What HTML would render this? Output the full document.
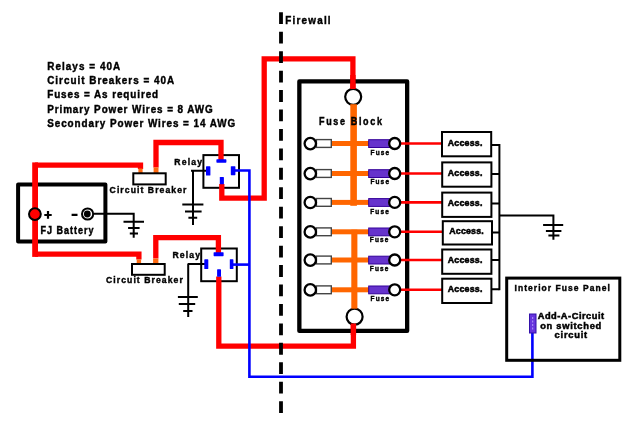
<!DOCTYPE html>
<html><head><meta charset="utf-8"><style>
html,body{margin:0;padding:0;background:#fff;}
svg{display:block;will-change:transform;}
text{font-family:"Liberation Sans",sans-serif;font-weight:bold;fill:#000;stroke:#000;stroke-width:0.42;}
</style></head><body>
<svg width="640" height="427" viewBox="0 0 640 427">
<rect x="0" y="0" width="640" height="427" fill="#fff"/>

<!-- notes -->
<g font-size="11">
<text transform="translate(47.2,69.8) scale(0.9,1)" x="0" y="0" textLength="81.1" lengthAdjust="spacing">Relays = 40A</text>
<text transform="translate(47.2,84) scale(0.9,1)" x="0" y="0" textLength="141.1" lengthAdjust="spacing">Circuit Breakers = 40A</text>
<text transform="translate(47.2,98.2) scale(0.9,1)" x="0" y="0" textLength="123.3" lengthAdjust="spacing">Fuses = As required</text>
<text transform="translate(47.2,113.1) scale(0.9,1)" x="0" y="0" textLength="183.9" lengthAdjust="spacing">Primary Power Wires = 8 AWG</text>
<text transform="translate(47.2,127.1) scale(0.9,1)" x="0" y="0" textLength="208.9" lengthAdjust="spacing">Secondary Power Wires = 14 AWG</text>
</g>

<!-- battery -->
<rect x="18.1" y="184.4" width="87.3" height="57.2" fill="none" stroke="#000" stroke-width="4" stroke-linejoin="round"/>

<!-- ground wires black -->
<g stroke="#000" stroke-width="2" fill="none">
  <!-- battery ground -->
  <path d="M94,213.8 H133.7 V237.7"/>
  <path d="M123.5,221.8 H144 M128.1,228 H139.6 M129.8,233.5 H138"/>
  <!-- relay1 ground -->
  <path d="M191,170.7 H207 M193,170.7 V224.9"/>
  <path d="M182.3,204.6 H203.4 M185,211.4 H201.6 M188.4,217.7 H197.2"/>
  <!-- relay2 ground -->
  <path d="M187.6,263.9 H205 M188.2,263.9 V316.9"/>
  <path d="M177.9,297 H197.8 M178.8,304.1 H195.2 M183.2,311.1 H192.5"/>
  <!-- access bus -->
  <path d="M492,144.9 H499.4 M492,174 H499.4 M492,203.4 H499.4 M492,232.5 H499.4 M492,260 H499.4 M492,289.2 H499.4"/>
  <path d="M499.4,144 V290.2"/>
  <path d="M499.4,215.4 H553.4 V239.7"/>
  <path d="M543.1,225.1 H563.2 M545.9,231 H561.4 M548.4,235.5 H559.4"/>
</g>

<!-- relay boxes -->
<rect x="203.4" y="155.1" width="35.6" height="32.7" fill="none" stroke="#000" stroke-width="2"/>
<rect x="201.2" y="248.5" width="35.6" height="32.7" fill="none" stroke="#000" stroke-width="2"/>
<!-- red wires -->
<g stroke="#ff0000" stroke-width="5.3" fill="none" stroke-linejoin="miter" stroke-linecap="butt">
  <path d="M35.1,165.1 H140.5 V169"/>
  <path d="M35.1,254.2 H138.9 V259.5"/>
  <path d="M35.1,162.4 V256.9" stroke-width="5.8"/>
  <path d="M156,167.5 V142.5 H221 V160"/>
  <path d="M221.8,184 V198.2 H264.2 V58.8 H352.9 V89"/>
  <path d="M155.8,258.6 V237.7 H218.4 V253"/>
  <path d="M218.8,276.5 V346.2 H353.4 V323.4"/>
</g>
<!-- orange CB terminals -->
<g fill="#ff6a10">
  <rect x="138.4" y="168.5" width="4.2" height="4.5"/>
  <rect x="153.6" y="167.4" width="4.9" height="5.6"/>
  <rect x="136.7" y="259.4" width="4.4" height="4.9"/>
  <rect x="153.1" y="258.6" width="5.3" height="5.7"/>
</g>
<!-- circuit breakers -->
<rect x="133.3" y="173.3" width="32.4" height="11.1" fill="#fff" stroke="#000" stroke-width="2"/>
<rect x="132" y="264" width="32.7" height="10.8" fill="#fff" stroke="#000" stroke-width="2"/>

<!-- battery terminals -->
<circle cx="34.9" cy="214.1" r="5.9" fill="#ff0000" stroke="#000" stroke-width="2"/>
<circle cx="87.6" cy="214" r="5.6" fill="#fff" stroke="#000" stroke-width="2"/>
<circle cx="87.3" cy="214" r="3.4" fill="#000"/>
<path d="M44.3,215 H51.7 M48,211.1 V218.8 M71.6,214.8 H77.5" stroke="#000" stroke-width="2.2" fill="none"/>
<text transform="translate(40.6,234.1) scale(0.9,1)" x="0" y="0" font-size="10" textLength="58.89" lengthAdjust="spacing">FJ Battery</text>
<text transform="translate(109.6,192.9) scale(0.9,1)" x="0" y="0" font-size="9.6" textLength="85.33" lengthAdjust="spacing">Circuit Breaker</text>
<text transform="translate(106.0,283.4) scale(0.9,1)" x="0" y="0" font-size="9.6" textLength="85.33" lengthAdjust="spacing">Circuit Breaker</text>
<text transform="translate(174.3,164.8) scale(0.9,1)" x="0" y="0" font-size="9.6" textLength="30.89" lengthAdjust="spacing">Relay</text>
<text transform="translate(172.5,257.5) scale(0.9,1)" x="0" y="0" font-size="9.6" textLength="30.56" lengthAdjust="spacing">Relay</text>

<!-- relays -->
<g fill="#0000ff">
  <rect x="216.4" y="159.3" width="10" height="3.4" rx="0.6"/>
  <rect x="206" y="166.3" width="4.4" height="9.2" rx="0.6"/>
  <rect x="230.8" y="166.2" width="4.6" height="9" rx="0.6"/>
  <rect x="219.8" y="177" width="4.1" height="7.3" rx="0.6"/>
  <rect x="213.6" y="252.2" width="10" height="4" rx="0.6"/>
  <rect x="204.3" y="259.3" width="4" height="9.7" rx="0.6"/>
  <rect x="229.8" y="259.2" width="3.6" height="9.8" rx="0.6"/>
  <rect x="217.1" y="269.3" width="3.9" height="7.5" rx="0.6"/>
</g>

<!-- blue wire -->
<g stroke="#0000ff" stroke-width="2.6" fill="none">
  <path d="M235,170.5 H249.4 V376.8 H532.4 V333"/>
  <path d="M233,264.6 H249.4"/>
</g>

<!-- firewall -->
<line x1="281" y1="12.3" x2="281" y2="414" stroke="#000" stroke-width="3.8" stroke-dasharray="11.8 7.645"/>
<text transform="translate(285.3,23.8) scale(0.9,1)" x="0" y="0" font-size="11" textLength="50.33" lengthAdjust="spacing">Firewall</text>

<!-- fuse block -->
<rect x="299.35" y="81.45" width="107.8" height="249.5" fill="none" stroke="#000" stroke-width="4.3" stroke-linejoin="round"/>
<circle cx="353.2" cy="96.8" r="8" fill="#fff" stroke="#000" stroke-width="2.2"/>
<circle cx="354.6" cy="316.7" r="8" fill="#fff" stroke="#000" stroke-width="2.2"/>
<g fill="#ff6600">
  <rect x="350.3" y="104.2" width="6.6" height="101.6"/>
  <rect x="351.3" y="229.7" width="6.1" height="79"/>
</g>
<path d="M352.9,75 V89 M353.4,335 V323.4" stroke="#ff0000" stroke-width="5.4" fill="none"/>
<g id="rows">
<rect x="331" y="141.0" width="38" height="5" fill="#ff6600"/>
<rect x="316.4" y="139.6" width="14.9" height="7.8" fill="#fff" stroke="#444" stroke-width="1.4"/>
<circle cx="310.3" cy="143.6" r="5.7" fill="#fff" stroke="#000" stroke-width="2.3"/>
<rect x="368.7" y="139.7" width="21" height="7.8" fill="#6633cc" stroke="#330099" stroke-width="1"/>
<line x1="400" y1="143.5" x2="442" y2="143.5" stroke="#ff0000" stroke-width="2.6"/>
<circle cx="394.7" cy="143.5" r="5.5" fill="#fff" stroke="#000" stroke-width="2.3"/>
<text transform="translate(370.6,154.7) scale(0.9,1)" x="0" y="0" font-size="7.2" textLength="20.67" lengthAdjust="spacing">Fuse</text>
<rect x="331" y="171.0" width="38" height="5" fill="#ff6600"/>
<rect x="316.4" y="169.6" width="14.9" height="7.8" fill="#fff" stroke="#444" stroke-width="1.4"/>
<circle cx="310.3" cy="173.6" r="5.7" fill="#fff" stroke="#000" stroke-width="2.3"/>
<rect x="368.7" y="169.7" width="21" height="7.8" fill="#6633cc" stroke="#330099" stroke-width="1"/>
<line x1="400" y1="173.5" x2="442" y2="173.5" stroke="#ff0000" stroke-width="2.6"/>
<circle cx="394.7" cy="173.5" r="5.5" fill="#fff" stroke="#000" stroke-width="2.3"/>
<text transform="translate(370.4,184.4) scale(0.9,1)" x="0" y="0" font-size="7.2" textLength="20.67" lengthAdjust="spacing">Fuse</text>
<rect x="331" y="199.9" width="38" height="5" fill="#ff6600"/>
<rect x="316.4" y="198.5" width="14.9" height="7.8" fill="#fff" stroke="#444" stroke-width="1.4"/>
<circle cx="310.3" cy="202.5" r="5.7" fill="#fff" stroke="#000" stroke-width="2.3"/>
<rect x="368.7" y="198.6" width="21" height="7.8" fill="#6633cc" stroke="#330099" stroke-width="1"/>
<line x1="400" y1="202.4" x2="442" y2="202.4" stroke="#ff0000" stroke-width="2.6"/>
<circle cx="394.7" cy="202.4" r="5.5" fill="#fff" stroke="#000" stroke-width="2.3"/>
<text transform="translate(370.2,213.5) scale(0.9,1)" x="0" y="0" font-size="7.2" textLength="20.67" lengthAdjust="spacing">Fuse</text>
<rect x="331" y="229.3" width="38" height="5" fill="#ff6600"/>
<rect x="316.4" y="227.9" width="14.9" height="7.8" fill="#fff" stroke="#444" stroke-width="1.4"/>
<circle cx="310.3" cy="231.9" r="5.7" fill="#fff" stroke="#000" stroke-width="2.3"/>
<rect x="368.7" y="228.0" width="21" height="7.8" fill="#6633cc" stroke="#330099" stroke-width="1"/>
<line x1="400" y1="231.8" x2="442" y2="231.8" stroke="#ff0000" stroke-width="2.6"/>
<circle cx="394.7" cy="231.8" r="5.5" fill="#fff" stroke="#000" stroke-width="2.3"/>
<text transform="translate(369.8,242.2) scale(0.9,1)" x="0" y="0" font-size="7.2" textLength="20.67" lengthAdjust="spacing">Fuse</text>
<rect x="331" y="257.5" width="38" height="5" fill="#ff6600"/>
<rect x="316.4" y="256.1" width="14.9" height="7.8" fill="#fff" stroke="#444" stroke-width="1.4"/>
<circle cx="310.3" cy="260.1" r="5.7" fill="#fff" stroke="#000" stroke-width="2.3"/>
<rect x="368.7" y="256.2" width="21" height="7.8" fill="#6633cc" stroke="#330099" stroke-width="1"/>
<line x1="400" y1="260.0" x2="442" y2="260.0" stroke="#ff0000" stroke-width="2.6"/>
<circle cx="394.7" cy="260.0" r="5.5" fill="#fff" stroke="#000" stroke-width="2.3"/>
<text transform="translate(369.8,271.3) scale(0.9,1)" x="0" y="0" font-size="7.2" textLength="20.67" lengthAdjust="spacing">Fuse</text>
<rect x="331" y="287.3" width="38" height="5" fill="#ff6600"/>
<rect x="316.4" y="285.9" width="14.9" height="7.8" fill="#fff" stroke="#444" stroke-width="1.4"/>
<circle cx="310.3" cy="289.9" r="5.7" fill="#fff" stroke="#000" stroke-width="2.3"/>
<rect x="368.7" y="286.0" width="21" height="7.8" fill="#6633cc" stroke="#330099" stroke-width="1"/>
<line x1="400" y1="289.8" x2="442" y2="289.8" stroke="#ff0000" stroke-width="2.6"/>
<circle cx="394.7" cy="289.8" r="5.5" fill="#fff" stroke="#000" stroke-width="2.3"/>
<text transform="translate(370.6,300.6) scale(0.9,1)" x="0" y="0" font-size="7.2" textLength="20.67" lengthAdjust="spacing">Fuse</text>
</g>
<text transform="translate(319.1,124.6) scale(0.9,1)" x="0" y="0" font-size="10" textLength="69.78" lengthAdjust="spacing">Fuse Block</text>

<!-- access boxes -->
<g fill="#fff" stroke="#000" stroke-width="2">
  <rect x="442" y="132" width="49.2" height="24.3"/>
  <rect x="442.2" y="162.4" width="49.2" height="24.3"/>
  <rect x="442.2" y="192.6" width="49.2" height="24.3"/>
  <rect x="442.8" y="221.2" width="49.2" height="23.3"/>
  <rect x="442.2" y="249.5" width="49.2" height="24.3"/>
  <rect x="442.2" y="278.7" width="49.2" height="24.3"/>
</g>

<g id="acc">
<text transform="translate(447.8,145.5) scale(0.98,1)" x="0" y="0" font-size="9" textLength="35.3" lengthAdjust="spacing" style="stroke-width:0.55">Access.</text>
<text transform="translate(447.8,175.6) scale(0.98,1)" x="0" y="0" font-size="9" textLength="35.3" lengthAdjust="spacing" style="stroke-width:0.55">Access.</text>
<text transform="translate(447.8,205.9) scale(0.98,1)" x="0" y="0" font-size="9" textLength="35.3" lengthAdjust="spacing" style="stroke-width:0.55">Access.</text>
<text transform="translate(449.2,234.3) scale(0.98,1)" x="0" y="0" font-size="9" textLength="35.3" lengthAdjust="spacing" style="stroke-width:0.55">Access.</text>
<text transform="translate(447.8,263.4) scale(0.98,1)" x="0" y="0" font-size="9" textLength="35.3" lengthAdjust="spacing" style="stroke-width:0.55">Access.</text>
<text transform="translate(447.8,292.4) scale(0.98,1)" x="0" y="0" font-size="9" textLength="35.3" lengthAdjust="spacing" style="stroke-width:0.55">Access.</text>
</g>
<!-- interior panel -->
<rect x="506.7" y="278.1" width="113.1" height="82.2" fill="none" stroke="#000" stroke-width="3"/>
<text transform="translate(514.5,291.4) scale(0.9,1)" x="0" y="0" font-size="9.4" textLength="105.89" lengthAdjust="spacing">Interior Fuse Panel</text>
<text transform="translate(537.7,318.8) scale(0.97,1)" x="0" y="0" font-size="9.6" textLength="68.5" lengthAdjust="spacing" style="stroke-width:0.5">Add-A-Circuit</text>
<text transform="translate(540.2,328.5) scale(0.97,1)" x="0" y="0" font-size="9.6" textLength="62.9" lengthAdjust="spacing" style="stroke-width:0.5">on switched</text>
<text transform="translate(554.6,337.9) scale(0.97,1)" x="0" y="0" font-size="9.6" textLength="33.6" lengthAdjust="spacing" style="stroke-width:0.5">circuit</text>
<rect x="529.5" y="314" width="6.5" height="19" fill="#6633dd" stroke="#3311aa" stroke-width="1"/>
<line x1="532.7" y1="317" x2="532.7" y2="331" stroke="#c0b0ff" stroke-width="0.8" stroke-dasharray="2 1.5"/>
</svg>
</body></html>
